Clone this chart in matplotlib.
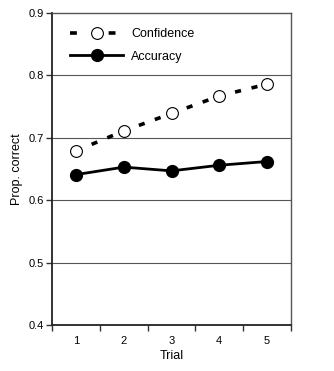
import matplotlib
matplotlib.use("Agg")
import matplotlib.pyplot as plt
from matplotlib.lines import Line2D

plt.rcParams['font.family'] = ['Liberation Sans', 'DejaVu Sans']

trials = [1, 2, 3, 4, 5]
confidence = [0.679, 0.711, 0.739, 0.767, 0.786]
accuracy = [0.641, 0.653, 0.647, 0.656, 0.662]
yticks = [0.4, 0.5, 0.6, 0.7, 0.8, 0.9]

fig = plt.figure(figsize=(3.34, 3.71), dpi=100)
ax = fig.add_axes([0.156, 0.124, 0.715, 0.841])

for y in yticks[1:-1]:
    ax.axhline(y, color='#555555', lw=0.8, zorder=0)

ax.plot(trials, confidence, linestyle=(0, (1.7, 3.0)), color='black', lw=2.6,
        marker='o', markersize=8.5, markerfacecolor='white', markeredgecolor='black',
        markeredgewidth=0.8, zorder=3)
ax.plot(trials, accuracy, linestyle='-', color='black', lw=2.0,
        marker='o', markersize=8.5, markerfacecolor='black', markeredgecolor='black',
        zorder=3)

ax.set_xlim(0.5, 5.5)
ax.set_ylim(0.4, 0.9)
ax.set_yticks(yticks)
ax.set_yticklabels([f"{v:.1f}" for v in yticks])
ax.set_xticks([0.5, 1.5, 2.5, 3.5, 4.5, 5.5])
ax.set_xticklabels([])
ax.set_xticks(trials, minor=True)
ax.set_xticklabels([str(t) for t in trials], minor=True)
ax.tick_params(axis='x', which='major', length=4, width=1, direction='out', color='#333333')
ax.tick_params(axis='x', which='minor', length=0, labelsize=8, pad=8)
ax.tick_params(axis='y', length=4, width=1, labelsize=8, color='#333333', pad=2)

for s in ['left', 'bottom']:
    ax.spines[s].set_linewidth(1.3)
    ax.spines[s].set_color('#222222')
for s in ['top', 'right']:
    ax.spines[s].set_linewidth(1.0)
    ax.spines[s].set_color('#555555')

ax.set_xlabel('Trial', fontsize=9, labelpad=3)
ax.set_ylabel('Prop. correct', fontsize=9, labelpad=4)

h_conf = Line2D([], [], linestyle=(0, (1.9, 8.8)), color='black', lw=2.6,
                marker='o', markersize=8.5, markerfacecolor='white',
                markeredgecolor='black', markeredgewidth=0.8)
h_acc = Line2D([], [], linestyle='-', color='black', lw=2.0,
               marker='o', markersize=8.5, markerfacecolor='black',
               markeredgecolor='black')
ax.legend([h_conf, h_acc], ['Confidence', 'Accuracy'], loc='upper left',
          frameon=False, fontsize=9, handlelength=4.25, handletextpad=0.65,
          labelspacing=0.85, borderaxespad=0, borderpad=0,
          bbox_to_anchor=(0.075, 0.952))

fig.savefig('out.png', dpi=100)
